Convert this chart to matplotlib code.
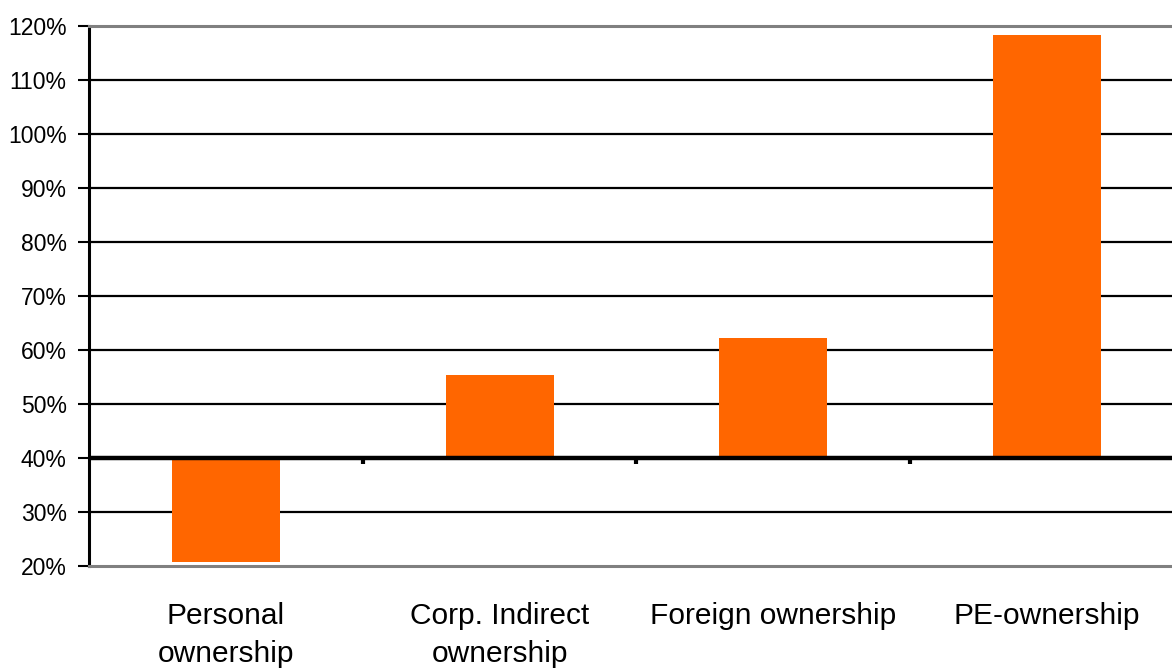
import numpy as np
import matplotlib.pyplot as plt

# Data (bars are drawn from the 40% baseline)
categories = ["Personal\nownership", "Corp. Indirect\nownership",
              "Foreign ownership", "PE-ownership"]
values = [0.207, 0.553, 0.621, 1.182]
baseline = 0.40
yticks = [0.2, 0.3, 0.4, 0.5, 0.6, 0.7, 0.8, 0.9, 1.0, 1.1, 1.2]

plt.rcParams['font.family'] = ['Liberation Sans', 'DejaVu Sans']

fig = plt.figure(figsize=(11.72, 6.68), dpi=100)
ax = fig.add_axes([0.0759, 0.1531, 0.9343, 0.8087])

x = np.arange(len(categories))
heights = np.array(values) - baseline
ax.bar(x, heights, bottom=baseline, width=0.395, color="#FF6600", zorder=3)

ax.set_xlim(-0.5, len(categories) - 0.5)
ax.set_ylim(yticks[0], yticks[-1])

# horizontal gridlines
for t in yticks[1:-1]:
    lw = 3.2 if t == baseline else 1.6
    ax.axhline(t, color="black", lw=lw, zorder=4 if t == baseline else 1)

# category separator ticks hanging down from the baseline
for b in x[:-1] + 0.5:
    ax.plot([b, b], [baseline, baseline - 0.012], color="black", lw=3,
            solid_capstyle="butt", zorder=4)

ax.set_yticks(yticks)
ax.set_yticklabels([f"{int(round(t * 100))}%" for t in yticks], fontsize=16.5)
ax.tick_params(axis="y", length=8, width=1.5, color="black", pad=8)

ax.set_xticks(x)
ax.set_xticklabels(categories, fontsize=21.5, linespacing=1.45)
ax.tick_params(axis="x", length=0, pad=26)

ax.spines["right"].set_visible(False)
ax.spines["left"].set_color("black")
ax.spines["left"].set_linewidth(2.2)
ax.spines["top"].set_color("#808080")
ax.spines["top"].set_linewidth(2.2)
ax.spines["bottom"].set_color("#808080")
ax.spines["bottom"].set_linewidth(2.2)

fig.savefig("out.png", dpi=100)
